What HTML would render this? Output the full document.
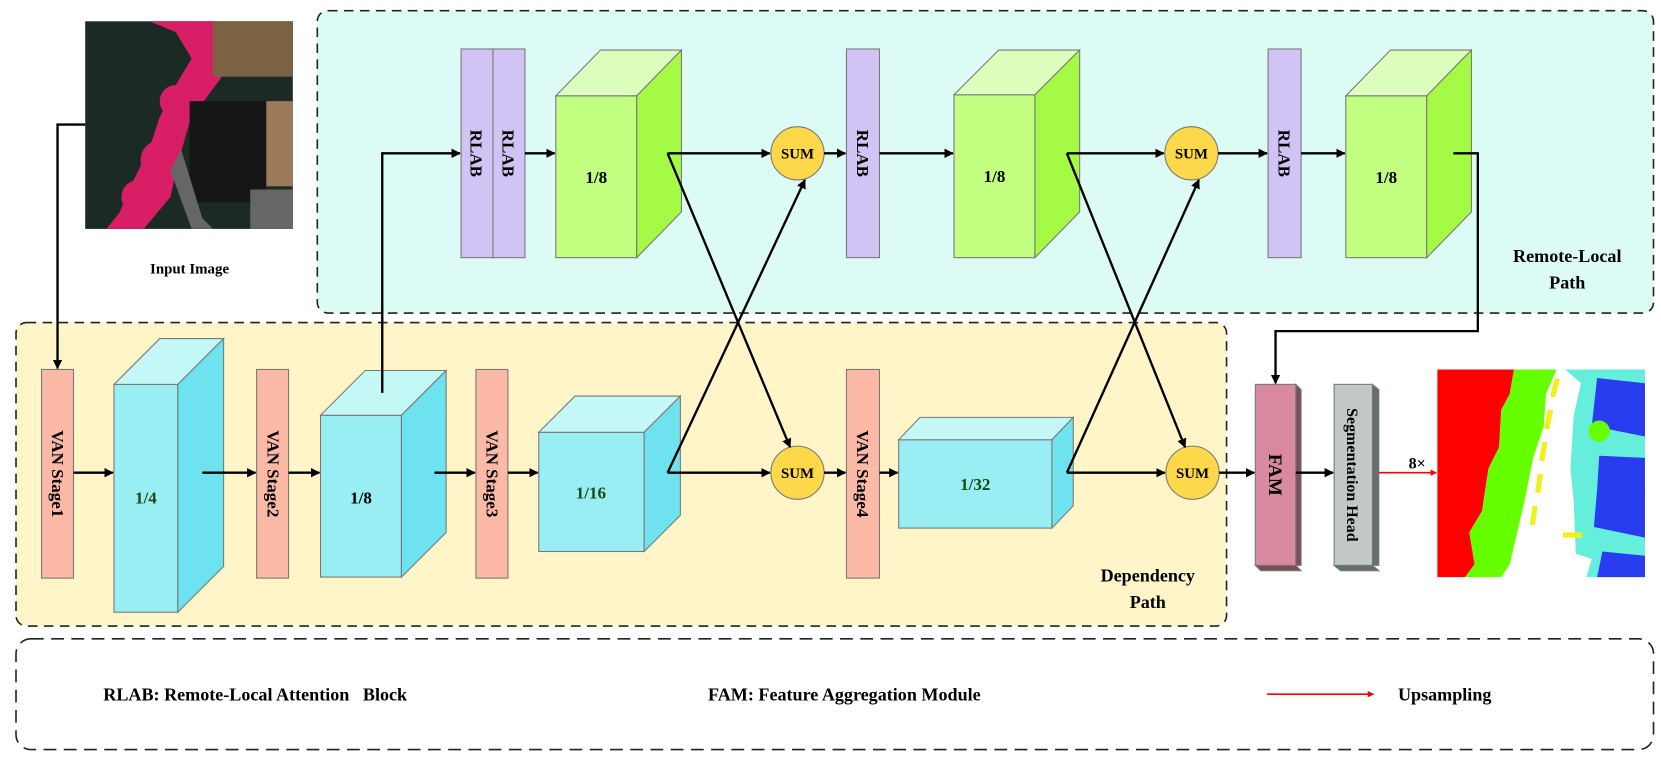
<!DOCTYPE html>
<html><head><meta charset="utf-8"><style>html,body{margin:0;padding:0;background:#fff}svg{display:block}text{font-family:"Liberation Serif",serif;font-weight:bold}</style></head>
<body>
<svg width="1661" height="757" viewBox="0 0 1560 711" xmlns="http://www.w3.org/2000/svg">
<defs>
<marker id="a" viewBox="0 0 10 10" refX="9" refY="5" markerWidth="4" markerHeight="4" orient="auto"><path d="M0,0L10,5L0,10z" fill="#000"/></marker>
<marker id="r" viewBox="0 0 10 10" refX="9" refY="5" markerWidth="4" markerHeight="4" orient="auto"><path d="M0,0L10,5L0,10z" fill="#f00"/></marker>
</defs>
<rect x="298" y="10" width="1255" height="284" rx="10" fill="#dcfbf5" stroke="#222" stroke-width="1.5" stroke-dasharray="9,6"/>
<rect x="15" y="303" width="1137" height="285" rx="10" fill="#fff5c8" stroke="#222" stroke-width="1.5" stroke-dasharray="9,6"/>
<rect x="15" y="600" width="1538" height="104" rx="14" fill="#fff" stroke="#222" stroke-width="1.5" stroke-dasharray="12,7"/>
<!-- input image -->
<rect x="80" y="20" width="195" height="195" fill="#1c2a26"/>
<path d="M140,20 L165,30 L180,55 L165,80 L150,110 L140,140 L125,170 L112,200 L100,215 L135,215 L160,185 L168,150 L178,115 L195,90 L210,70 L240,60 L270,65 L270,45 L230,40 L205,20Z" fill="#d81e64"/>
<circle cx="150" cy="150" r="18" fill="#d81e64"/><circle cx="130" cy="185" r="16" fill="#d81e64"/><circle cx="165" cy="95" r="15" fill="#d81e64"/>
<rect x="200" y="20" width="75" height="52" fill="#7a6242"/>
<rect x="250" y="95" width="25" height="80" fill="#9a7a58"/>
<rect x="178" y="95" width="72" height="95" fill="#161616"/>
<path d="M170,140 L190,205 L200,215 L180,215 L160,160Z" fill="#666"/>
<rect x="235" y="178" width="40" height="37" fill="#666"/>
<text x="178" y="257" font-size="14" text-anchor="middle">Input Image</text>
<g stroke="#777" stroke-width="1">
<rect x="522" y="90" width="76" height="152" fill="#c2ff80"/><polygon points="522,90 564,47 640,47 598,90" fill="#ddffbe"/><polygon points="598,90 640,47 640,199 598,242" fill="#a4fa44"/>
<rect x="896" y="89" width="76" height="153" fill="#c2ff80"/><polygon points="896,89 938,47 1014,47 972,89" fill="#ddffbe"/><polygon points="972,89 1014,47 1014,199 972,242" fill="#a4fa44"/>
<rect x="1264" y="90" width="76" height="152" fill="#c2ff80"/><polygon points="1264,90 1306,47 1382,47 1340,90" fill="#ddffbe"/><polygon points="1340,90 1382,47 1382,199 1340,242" fill="#a4fa44"/>
<rect x="433" y="46" width="30" height="196" fill="#d0c4f4"/><rect x="463" y="46" width="30" height="196" fill="#d0c4f4"/>
<rect x="795" y="46" width="31" height="196" fill="#d0c4f4"/><rect x="1191" y="46" width="31" height="196" fill="#d0c4f4"/>
<rect x="39" y="347" width="30" height="196" fill="#fbb9a6"/><rect x="241" y="347" width="30" height="196" fill="#fbb9a6"/>
<rect x="447" y="347" width="30" height="196" fill="#fbb9a6"/><rect x="795" y="347" width="31" height="196" fill="#fbb9a6"/>
<rect x="107" y="361" width="60" height="214" fill="#98eef2"/><polygon points="107,361 150,318 210,318 167,361" fill="#c4f8f6"/><polygon points="167,361 210,318 210,532 167,575" fill="#6ee2ee"/>
<rect x="301" y="390" width="76" height="152" fill="#98eef2"/><polygon points="301,390 343,348 419,348 377,390" fill="#c4f8f6"/><polygon points="377,390 419,348 419,500 377,542" fill="#6ee2ee"/>
<rect x="506" y="406" width="99" height="112" fill="#98eef2"/><polygon points="506,406 540,372 639,372 605,406" fill="#c4f8f6"/><polygon points="605,406 639,372 639,484 605,518" fill="#6ee2ee"/>
<rect x="844" y="413" width="144" height="83" fill="#98eef2"/><polygon points="844,413 864,392 1008,392 988,413" fill="#c4f8f6"/><polygon points="988,413 1008,392 1008,475 988,496" fill="#6ee2ee"/>
<polygon points="1217,361 1222,366 1222,531 1217,531" fill="#7a5058"/><polygon points="1179,531 1217,531 1222,536 1184,536" fill="#7a5058"/>
<rect x="1179" y="361" width="38" height="170" fill="#d98aa0"/>
<polygon points="1289,361 1295,366 1295,531 1289,531" fill="#637070"/><polygon points="1253,531 1289,531 1295,536 1259,536" fill="#637070"/>
<rect x="1253" y="361" width="36" height="170" fill="#c2c8c8"/>
<circle cx="749" cy="144" r="25" fill="#fdd84a"/><circle cx="1119" cy="144" r="25" fill="#fdd84a"/>
<circle cx="749" cy="444" r="25" fill="#fdd84a"/><circle cx="1120" cy="444" r="25" fill="#fdd84a"/>
</g>
<!-- seg image -->
<rect x="1350" y="347" width="195" height="195" fill="#fff"/>
<path d="M1350,347 L1422,347 L1418,370 L1410,385 L1408,420 L1398,440 L1392,480 L1380,500 L1385,530 L1376,542 L1350,542Z" fill="#f00"/>
<path d="M1422,347 L1462,347 L1452,370 L1450,400 L1440,430 L1432,470 L1425,500 L1418,530 L1410,542 L1376,542 L1385,530 L1380,500 L1392,480 L1398,440 L1408,420 L1410,385 L1418,370Z" fill="#66ff00"/>
<path d="M1470,347 L1545,347 L1545,542 L1490,542 L1495,525 L1480,520 L1478,470 L1475,440 L1478,390 L1485,360Z" fill="#66eedd"/>
<path d="M1500,355 L1545,360 L1545,410 L1495,400Z" fill="#2a3cf0"/><path d="M1502,428 L1545,430 L1545,505 L1497,495 L1500,460Z" fill="#2a3cf0"/><path d="M1505,518 L1545,522 L1545,542 L1500,542Z" fill="#2a3cf0"/>
<circle cx="1502" cy="405" r="10" fill="#66ff00"/>
<g fill="#f0f020"><rect x="1458" y="355" width="5" height="18" transform="rotate(15 1460 364)"/><rect x="1452" y="385" width="5" height="18" transform="rotate(12 1454 394)"/><rect x="1447" y="415" width="5" height="18" transform="rotate(10 1449 424)"/><rect x="1443" y="445" width="5" height="18" transform="rotate(8 1445 454)"/><rect x="1438" y="475" width="5" height="18" transform="rotate(8 1440 484)"/><rect x="1468" y="500" width="18" height="5"/></g>
<g stroke="#000" stroke-width="2.2" fill="none" marker-end="url(#a)">
<polyline points="80,117 54,117 54,346"/>
<polyline points="359,369 359,144 432,144"/>
<line x1="493" y1="144" x2="521" y2="144"/>
<line x1="627" y1="144" x2="723" y2="144"/>
<line x1="627" y1="144" x2="742" y2="420"/>
<line x1="627" y1="444" x2="756" y2="169"/>
<line x1="627" y1="444" x2="723" y2="444"/>
<line x1="774" y1="144" x2="794" y2="144"/>
<line x1="826" y1="144" x2="895" y2="144"/>
<line x1="1002" y1="144" x2="1093" y2="144"/>
<line x1="1002" y1="144" x2="1113" y2="420"/>
<line x1="1002" y1="444" x2="1126" y2="169"/>
<line x1="1002" y1="444" x2="1094" y2="444"/>
<line x1="1144" y1="144" x2="1190" y2="144"/>
<line x1="1222" y1="144" x2="1263" y2="144"/>
<polyline points="1365,144 1388,144 1388,311 1198,311 1198,360"/>
<line x1="69" y1="444" x2="106" y2="444"/>
<line x1="190" y1="444" x2="240" y2="444"/>
<line x1="271" y1="444" x2="300" y2="444"/>
<line x1="408" y1="444" x2="446" y2="444"/>
<line x1="477" y1="444" x2="505" y2="444"/>
<line x1="774" y1="444" x2="794" y2="444"/>
<line x1="826" y1="444" x2="843" y2="444"/>
<line x1="1145" y1="444" x2="1178" y2="444"/>
<line x1="1217" y1="444" x2="1252" y2="444"/>
</g>
<line x1="1295" y1="444" x2="1349" y2="444" stroke="#f00" stroke-width="1.5" marker-end="url(#r)"/>
<line x1="1190" y1="652" x2="1290" y2="652" stroke="#f00" stroke-width="1.5" marker-end="url(#r)"/>
<g font-size="16">
<text transform="translate(442,144) rotate(90)" text-anchor="middle">RLAB</text>
<text transform="translate(472,144) rotate(90)" text-anchor="middle">RLAB</text>
<text transform="translate(805,144) rotate(90)" text-anchor="middle">RLAB</text>
<text transform="translate(1201,144) rotate(90)" text-anchor="middle">RLAB</text>
<text transform="translate(49,445) rotate(90)" text-anchor="middle">VAN Stage1</text>
<text transform="translate(251,445) rotate(90)" text-anchor="middle">VAN Stage2</text>
<text transform="translate(457,445) rotate(90)" text-anchor="middle">VAN Stage3</text>
<text transform="translate(805,445) rotate(90)" text-anchor="middle">VAN Stage4</text>
<text transform="translate(1192,446) rotate(90)" text-anchor="middle" font-size="18">FAM</text>
<text transform="translate(1265,446) rotate(90)" text-anchor="middle" font-size="15">Segmentation Head</text>
<text x="560" y="172" text-anchor="middle">1/8</text>
<text x="934" y="171" text-anchor="middle">1/8</text>
<text x="1302" y="172" text-anchor="middle">1/8</text>
<text x="137" y="473" text-anchor="middle" fill="#1a4a10">1/4</text>
<text x="339" y="473" text-anchor="middle">1/8</text>
<text x="555" y="468" text-anchor="middle" fill="#1a4a10">1/16</text>
<text x="916" y="460" text-anchor="middle" fill="#1a4a10">1/32</text>
<text x="749" y="149" text-anchor="middle" font-size="14">SUM</text>
<text x="1119" y="149" text-anchor="middle" font-size="14">SUM</text>
<text x="749" y="449" text-anchor="middle" font-size="14">SUM</text>
<text x="1120" y="449" text-anchor="middle" font-size="14">SUM</text>
<text x="1331" y="440" text-anchor="middle" font-size="15">8×</text>
<text x="1472" y="246" text-anchor="middle" font-size="17">Remote-Local</text>
<text x="1472" y="271" text-anchor="middle" font-size="17">Path</text>
<text x="1078" y="546" text-anchor="middle" font-size="17">Dependency</text>
<text x="1078" y="571" text-anchor="middle" font-size="17">Path</text>
<text x="97" y="658" font-size="17" xml:space="preserve">RLAB: Remote-Local Attention   Block</text>
<text x="665" y="658" font-size="17">FAM: Feature Aggregation Module</text>
<text x="1313" y="658" font-size="17">Upsampling</text>
</g>
</svg>
</body></html>
